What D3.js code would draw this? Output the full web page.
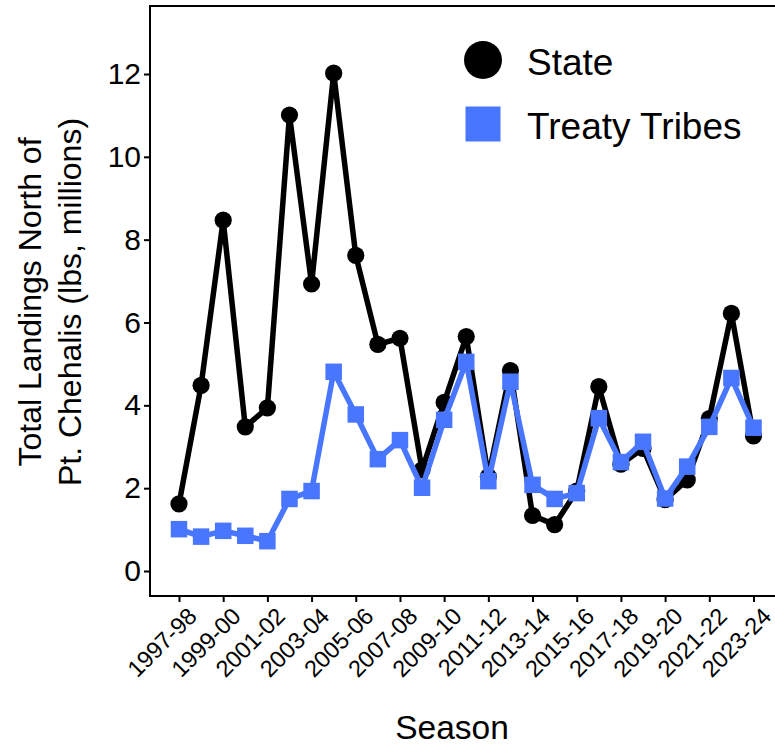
<!DOCTYPE html>
<html>
<head>
<meta charset="utf-8">
<script src="https://cdn.jsdelivr.net/npm/d3@7"></script>
<style>
  html, body { margin: 0; padding: 0; background: #fff; }
  svg { display: block; font-family: "Liberation Sans", Arial, sans-serif; }
</style>
</head>
<body>
<svg id="chart" width="775" height="747"></svg>
<script>
const seasons = ["1997-98","1998-99","1999-00","2000-01","2001-02","2002-03","2003-04","2004-05","2005-06","2006-07","2007-08","2008-09","2009-10","2010-11","2011-12","2012-13","2013-14","2014-15","2015-16","2016-17","2017-18","2018-19","2019-20","2020-21","2021-22","2022-23","2023-24"];
const stateValues = [1.62,4.48,8.47,3.48,3.94,11.01,6.93,12.02,7.62,5.47,5.62,2.44,4.07,5.66,2.28,4.84,1.34,1.12,1.93,4.45,2.58,2.96,1.72,2.2,3.68,6.22,3.26];
const tribeValues = [1.01,0.83,0.97,0.85,0.72,1.74,1.93,4.81,3.78,2.70,3.16,2.01,3.65,5.05,2.17,4.57,2.08,1.74,1.88,3.69,2.63,3.12,1.75,2.52,3.48,4.66,3.46];
const yTicks = [0,2,4,6,8,10,12];
const xTickLabels = ["1997-98","1999-00","2001-02","2003-04","2005-06","2007-08","2009-10","2011-12","2013-14","2015-16","2017-18","2019-20","2021-22","2023-24"];
const seriesNames = ["State","Treaty Tribes"];
const seriesColors = ["#000000","#4876FF"];

const svg = d3.select("#chart");
const panel = {left: 150, top: 6, right: 782, bottom: 596};

const x = d3.scaleLinear().domain([0, seasons.length - 1]).range([179, 753.5]);
const y = d3.scaleLinear().domain([0, 12]).range([571, 74]);

// panel border
svg.append("rect")
  .attr("x", panel.left).attr("y", panel.top)
  .attr("width", panel.right - panel.left).attr("height", panel.bottom - panel.top)
  .attr("fill", "none").attr("stroke", "#000").attr("stroke-width", 2);

// y axis
const yAxis = d3.axisLeft(y).tickValues(yTicks).tickSize(6).tickPadding(3).tickFormat(d3.format("d"));
const gy = svg.append("g").attr("transform", `translate(${panel.left},0)`).call(yAxis);
gy.select(".domain").remove();
gy.selectAll(".tick line").attr("stroke", "#000").attr("stroke-width", 2);
gy.selectAll(".tick text").attr("font-size", 30).attr("fill", "#000").attr("font-family", "Liberation Sans, Arial, sans-serif");

// x axis
const xTickIdx = xTickLabels.map(l => seasons.indexOf(l));
const xAxis = d3.axisBottom(x).tickValues(xTickIdx).tickSize(6).tickFormat(i => seasons[i]);
const gx = svg.append("g").attr("transform", `translate(0,${panel.bottom})`).call(xAxis);
gx.select(".domain").remove();
gx.selectAll(".tick line").attr("stroke", "#000").attr("stroke-width", 2);
gx.selectAll(".tick text")
  .attr("font-size", 23.5).attr("fill", "#000").attr("font-family", "Liberation Sans, Arial, sans-serif")
  .attr("text-anchor", "end")
  .attr("x", 0).attr("y", 0)
  .attr("dy", "0.7em")
  .attr("transform", "translate(7,10) rotate(-45)");

// series
const seriesData = [stateValues, tribeValues];
const line = d3.line().x((d, i) => x(i)).y(d => y(d));

seriesData.forEach((vals, k) => {
  svg.append("path").datum(vals)
    .attr("d", line).attr("fill", "none")
    .attr("stroke", seriesColors[k]).attr("stroke-width", 5.5)
    .attr("stroke-linejoin", "round");
  if (k === 0) {
    svg.append("g").selectAll("circle").data(vals).join("circle")
      .attr("cx", (d, i) => x(i)).attr("cy", d => y(d)).attr("r", 8.6)
      .attr("fill", seriesColors[k]);
  } else {
    const s = 16.5;
    svg.append("g").selectAll("rect").data(vals).join("rect")
      .attr("x", (d, i) => x(i) - s / 2).attr("y", d => y(d) - s / 2)
      .attr("width", s).attr("height", s)
      .attr("fill", seriesColors[k]);
  }
});

// legend
const lg = svg.append("g");
lg.append("circle").attr("cx", 483).attr("cy", 60).attr("r", 19).attr("fill", seriesColors[0]);
lg.append("rect").attr("x", 465.5).attr("y", 106.5).attr("width", 35).attr("height", 35).attr("fill", seriesColors[1]);
lg.append("text").attr("x", 527).attr("y", 75).attr("font-size", 37).text(seriesNames[0]);
lg.append("text").attr("x", 527).attr("y", 139).attr("font-size", 37).text(seriesNames[1]);

// axis titles
svg.append("text").attr("x", 452).attr("y", 739).attr("text-anchor", "middle")
  .attr("font-size", 33.5).text("Season");
const yt = svg.append("text").attr("text-anchor", "middle").attr("font-size", 32)
  .attr("transform", "translate(0,302) rotate(-90)");
yt.append("tspan").attr("x", 0).attr("y", 41).text("Total Landings North of");
yt.append("tspan").attr("x", 0).attr("y", 81).text("Pt. Chehalis (lbs, millions)");
</script>
</body>
</html>
